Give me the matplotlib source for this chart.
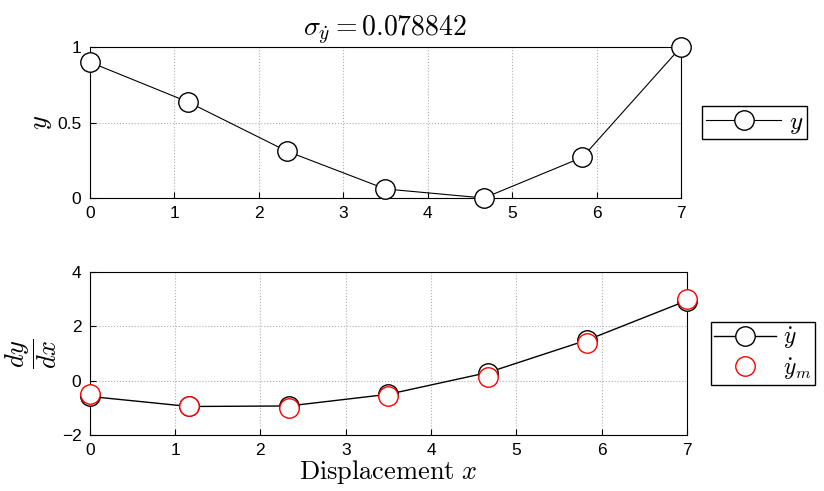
import numpy as np
import matplotlib.pyplot as plt

# data
x = [0, 7/6, 14/6, 3.5, 28/6, 35/6, 7]
y = [0.90, 0.635, 0.31, 0.06, 0.0, 0.27, 1.0]
dy = [-0.58, -0.95, -0.93, -0.50, 0.30, 1.50, 2.95]
dy_m = [-0.50, -0.95, -0.99, -0.55, 0.13, 1.40, 3.0]
sigma_label = r'$\sigma_{\dot{y}} = 0.078842$'

plt.rcParams['font.family'] = 'Liberation Sans'
plt.rcParams['mathtext.fontset'] = 'cm'

fig = plt.figure(figsize=(8.24, 4.91), dpi=100)
ax1 = fig.add_axes([0.109, 0.5967, 0.7175, 0.3076])
ax2 = fig.add_axes([0.109, 0.114, 0.7247, 0.332])

for ax in (ax1, ax2):
    ax.grid(True, linestyle=':', color='#b0b0b0', linewidth=0.8)
    ax.tick_params(direction='in', labelsize=12.5, length=4, pad=6)
    ax.set_xlim(0, 7)
    ax.set_xticks(range(8))
    for s in ax.spines.values():
        s.set_linewidth(0.8)

ax1.plot(x, y, 'k-', marker='o', markersize=14, markerfacecolor='white',
         markeredgecolor='black', linewidth=0.8, clip_on=False, label='$y$', zorder=3)
ax1.set_ylim(0, 1)
ax1.set_yticks([0, 0.5, 1])
ax1.set_yticklabels(['0', '0.5', '1'])
ax1.set_ylabel('$y$', fontsize=19, labelpad=2)
ax1.set_title(sigma_label, fontsize=20, pad=8)
ax1.legend(loc='center left', bbox_to_anchor=(1.015, 0.5), fontsize=18,
           fancybox=False, edgecolor='black', framealpha=1, handlelength=3.0,
           borderpad=0.15, handletextpad=0.3)

ax2.plot(x, dy, 'k-', marker='o', markersize=14, markerfacecolor='white',
         markeredgecolor='black', linewidth=1.0, clip_on=False, label=r'$\dot{y}$', zorder=3)
ax2.plot(x, dy_m, linestyle='none', marker='o', markersize=14, markerfacecolor='white',
         markeredgecolor='red', clip_on=False, label=r'$\dot{y}_m$', zorder=4)
ax2.set_ylim(-2, 4)
ax2.set_yticks([-2, 0, 2, 4])
ax2.set_ylabel(r'$\dfrac{dy}{dx}$', fontsize=19, labelpad=2)
ax2.set_xlabel(r'$\mathrm{Displacement}\ x$', fontsize=19, labelpad=0)
ax2.legend(loc='center left', bbox_to_anchor=(1.02, 0.5), fontsize=17,
           fancybox=False, edgecolor='black', framealpha=1, handlelength=2.6,
           borderpad=0.15, handletextpad=0.3, labelspacing=0.2)

fig.savefig('out.png', dpi=100)
